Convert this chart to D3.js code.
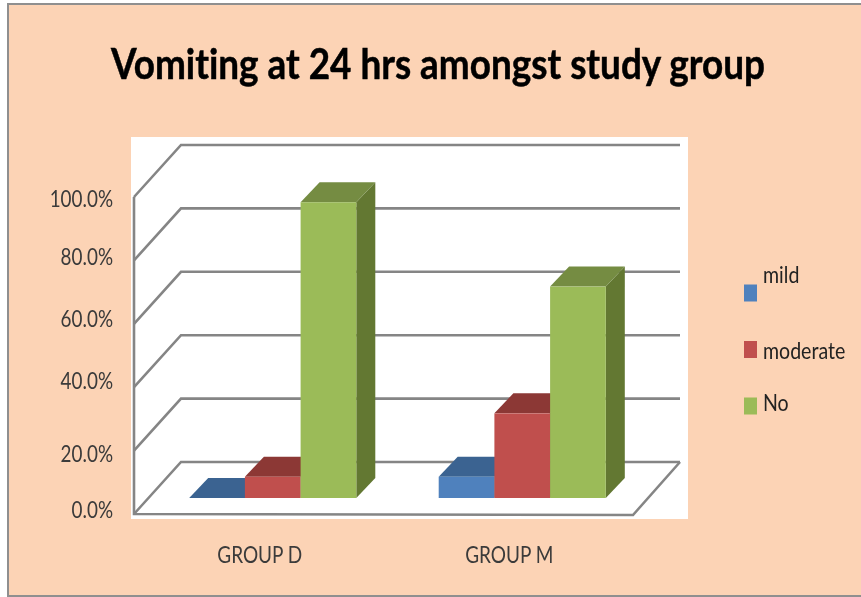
<!DOCTYPE html>
<html>
<head>
<meta charset="utf-8">
<script src="https://cdn.jsdelivr.net/npm/d3@7/dist/d3.min.js"></script>
<style>html,body{margin:0;padding:0;background:#fff;overflow:hidden}svg{display:block}text{font-variant-ligatures:none}</style>
</head>
<body>
<svg id="c" width="861" height="597"></svg>
<script>
const title = "Vomiting at 24 hrs amongst study group";
const groups = ["GROUP D", "GROUP M"];
const seriesNames = ["mild", "moderate", "No"];
const mild = [0, 6.7];
const moderate = [6.7, 26.7];
const no = [93.3, 66.7];
const axisTicks = [0, 20, 40, 60, 80, 100];
const seriesValues = [mild, moderate, no];
const frontColors = ["#4F81BD", "#C0504D", "#9BBB59"];
const topColors = ["#3A6491", "#8C3836", "#748C43"];
const sideColors = ["#335780", "#7A302E", "#637833"];

const svg = d3.select("#c");
const defs = svg.append("defs");
defs.append("filter").attr("id", "soft").attr("x", "-5%").attr("y", "-5%").attr("width", "110%").attr("height", "110%")
  .append("feGaussianBlur").attr("stdDeviation", 0.6);

// frame
svg.append("rect").attr("x", 8).attr("y", 4).attr("width", 860).attr("height", 592)
  .attr("fill", "#FCD3B5").attr("stroke", "#8f8f8f").attr("stroke-width", 2);

const chart = svg.append("g").attr("filter", "url(#soft)");
chart.append("rect").attr("x", 131).attr("y", 137).attr("width", 557).attr("height", 382).attr("fill", "#fff");

// 3D geometry
const wallDx = 47, wallDy = -52, barDx = 19, barDy = -20;
const floorLeft = 134, floorRight = 633, floorY = 514, topY = 197;
const y = d3.scaleLinear().domain([0, 100]).range([floorY, topY]);
const x = d3.scaleBand().domain(groups).range([floorLeft, floorRight]);
const h = d3.scaleLinear().domain([0, 100]).range([0, floorY - topY]);
const barWidth = 55.7;
const sx = d3.scaleBand().domain(seriesNames).range([-barWidth * 1.5, barWidth * 1.5]);
const insetX = (wallDx - barDx) / 2, insetY = (-wallDy + barDy) / 2;
const line = d3.line();

// walls and gridlines
const grid = chart.append("g").attr("fill", "none").attr("stroke", "#858585").attr("stroke-width", 2.6);
grid.selectAll("path.g").data(axisTicks).join("path").attr("class", "g")
  .attr("d", t => line([[floorLeft, y(t)], [floorLeft + wallDx, y(t) + wallDy], [floorRight + wallDx, y(t) + wallDy]]));
grid.append("path").attr("d", line([[floorLeft, y(100)], [floorLeft, y(0)], [floorRight, y(0) + 1], [floorRight + wallDx, y(0) + wallDy]]));

// bars
const baseY = floorY - insetY;
groups.forEach((g, gi) => {
  const cx = x(g) + x.bandwidth() / 2 + insetX;
  seriesNames.forEach((s, si) => {
    const x0 = cx + sx(s), x1 = x0 + sx.bandwidth();
    const yTop = baseY - h(seriesValues[si][gi]);
    const b = chart.append("g");
    b.append("path").attr("fill", sideColors[si])
      .attr("d", line([[x1, yTop], [x1 + barDx, yTop + barDy], [x1 + barDx, baseY + barDy], [x1, baseY]]) + "Z");
    b.append("path").attr("fill", topColors[si])
      .attr("d", line([[x0, yTop], [x0 + barDx, yTop + barDy], [x1 + barDx, yTop + barDy], [x1, yTop]]) + "Z");
    b.append("rect").attr("x", x0).attr("y", yTop).attr("width", x1 - x0).attr("height", baseY - yTop).attr("fill", frontColors[si]);
  });
});

// squeeze helper: narrows Lato towards the condensed face of the original
function squeeze(sel, k) {
  sel.each(function () {
    const len = this.getComputedTextLength();
    d3.select(this).attr("textLength", len * k).attr("lengthAdjust", "spacingAndGlyphs");
  });
}
const labelFont = "Lato, 'Open Sans', sans-serif";

// value axis
const yAxis = chart.append("g").attr("transform", `translate(${floorLeft},0)`)
  .call(d3.axisLeft(y).tickValues(axisTicks).tickSize(0).tickPadding(21).tickFormat(d => d.toFixed(1) + "%"));
yAxis.select(".domain").remove();
const labelNudge = { 0: -4, 20: 3.4, 40: -6, 60: -5, 80: -3.4, 100: 2 };
yAxis.selectAll("text").attr("font-family", labelFont).attr("font-size", 23).attr("fill", "#3a3a3a")
  .attr("y", d => labelNudge[d]).call(squeeze, 0.82);

// category axis
const xAxis = chart.append("g").attr("transform", `translate(1,${floorY})`)
  .call(d3.axisBottom(x).tickSize(0).tickPadding(33));
xAxis.select(".domain").remove();
xAxis.selectAll("text").attr("font-family", labelFont).attr("font-size", 23).attr("fill", "#3a3a3a").call(squeeze, 0.826);

// legend
const legendY = d3.scalePoint().domain(seriesNames).range([293, 406]);
const legendTextNudge = { mild: -10, moderate: 9, No: 5 };
const lg = chart.append("g").selectAll("g").data(seriesNames).join("g");
lg.append("rect").attr("x", 744).attr("y", d => legendY(d) - 8.5).attr("width", 13).attr("height", 17)
  .attr("fill", (d, i) => frontColors[i]);
lg.append("text").attr("x", 763).attr("y", d => legendY(d) + legendTextNudge[d])
  .attr("font-family", labelFont).attr("font-size", 23).attr("fill", "#222").text(d => d).call(squeeze, 0.85);

// title
chart.append("text").attr("x", 438).attr("y", 79).attr("text-anchor", "middle")
  .attr("font-family", labelFont).attr("font-weight", 700).attr("font-size", 42).attr("fill", "#000")
  .attr("stroke", "#000").attr("stroke-width", 0.5)
  .attr("textLength", 654).attr("lengthAdjust", "spacingAndGlyphs").text(title);
</script>
</body>
</html>
